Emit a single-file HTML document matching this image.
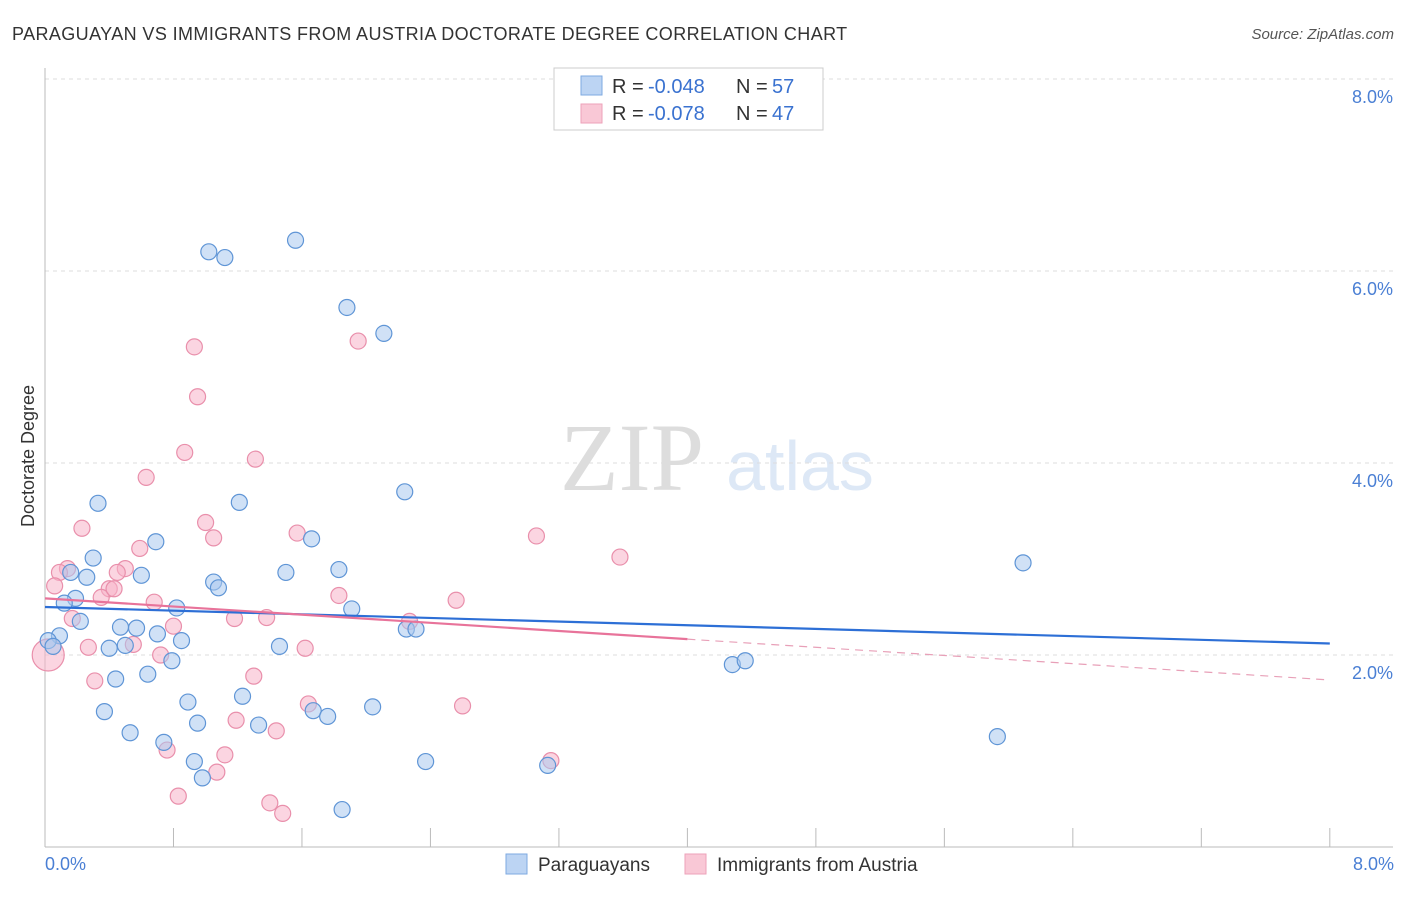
<!DOCTYPE html>
<html><head><meta charset="utf-8"><style>
body{margin:0;background:#fff;font-family:"Liberation Sans",sans-serif}
</style></head><body>
<svg id="c" width="1406" height="892" xmlns="http://www.w3.org/2000/svg">
<text x="12" y="40" font-size="18" fill="#333" letter-spacing="0.4">PARAGUAYAN VS IMMIGRANTS FROM AUSTRIA DOCTORATE DEGREE CORRELATION CHART</text>
<text x="1394" y="39" font-size="15" fill="#555" font-style="italic" text-anchor="end">Source: ZipAtlas.com</text>
<text x="632" y="490" font-size="96" fill="#ddd" font-family="Liberation Serif" text-anchor="middle">ZIP</text>
<text x="800" y="490" font-size="70" fill="#dde8f6" text-anchor="middle">atlas</text>
<g id="grid"></g><g id="axes"></g><g id="pts"></g><g id="lines"></g>
<text transform="translate(34,456) rotate(-90)" font-size="18" fill="#333" text-anchor="middle">Doctorate Degree</text>
<text x="45" y="870" font-size="18" fill="#4a7fd4">0.0%</text>
<text x="1394" y="870" font-size="18" fill="#4a7fd4" text-anchor="end">8.0%</text>
<g>
<rect x="554" y="68" width="269" height="62" fill="#fff" stroke="#ccc"/>
<rect x="581" y="76" width="21" height="19" fill="#bcd4f3" stroke="#7eaae0"/>
<rect x="581" y="104" width="21" height="19" fill="#f9c8d6" stroke="#eda2b9"/>
<text x="612" y="93" font-size="20" fill="#333">R =</text>
<text x="648" y="93" font-size="20" fill="#3a72d0">-0.048</text>
<text x="736" y="93" font-size="20" fill="#333">N =</text>
<text x="772" y="93" font-size="20" fill="#3a72d0">57</text>
<text x="612" y="120" font-size="20" fill="#333">R =</text>
<text x="648" y="120" font-size="20" fill="#3a72d0">-0.078</text>
<text x="736" y="120" font-size="20" fill="#333">N =</text>
<text x="772" y="120" font-size="20" fill="#3a72d0">47</text>
</g>
<g>
<rect x="506" y="854" width="21" height="20" fill="#bcd4f3" stroke="#7eaae0"/>
<text x="538" y="871" font-size="19" fill="#333">Paraguayans</text>
<rect x="685" y="854" width="21" height="20" fill="#f9c8d6" stroke="#eda2b9"/>
<text x="717" y="871" font-size="19" fill="#333">Immigrants from Austria</text>
</g>
</svg>
<script>
const yTicks=[2,4,6,8];
const yTickLabels=["2.0%","4.0%","6.0%","8.0%"];
const xTicks=[0,0.8,1.6,2.4,3.2,4.0,4.8,5.6,6.4,7.2,8.0];
const blueX=[1.02,1.12,1.56,1.88,2.11,0.33,1.21,2.24,0.69,1.66,0.30,0.16,0.26,0.60,1.50,1.83,1.05,1.08,0.19,0.12,0.82,1.91,0.22,0.47,0.57,0.70,0.85,0.09,0.02,0.05,0.50,0.40,1.46,2.25,2.31,0.79,0.64,0.44,4.28,4.36,6.09,0.89,1.23,0.37,0.95,1.33,1.67,1.76,2.04,0.53,0.74,0.93,0.98,2.37,3.13,5.93,1.85];
const blueY=[6.20,6.14,6.32,5.62,5.35,3.58,3.59,3.70,3.18,3.21,3.01,2.86,2.81,2.83,2.86,2.89,2.76,2.70,2.59,2.54,2.49,2.48,2.35,2.29,2.28,2.22,2.15,2.20,2.15,2.09,2.10,2.07,2.09,2.27,2.27,1.94,1.80,1.75,1.90,1.94,2.96,1.51,1.57,1.41,1.29,1.27,1.42,1.36,1.46,1.19,1.09,0.89,0.72,0.89,0.85,1.15,0.39];
const pinkX=[0.93,1.95,0.95,0.87,1.31,0.63,0.23,1.00,1.05,1.57,3.06,3.58,0.59,0.14,0.09,0.50,0.45,0.06,0.40,0.35,0.43,0.68,1.83,2.56,0.17,1.18,1.38,2.27,0.80,0.27,0.55,0.72,1.62,0.31,1.30,1.64,2.60,1.19,1.44,0.76,1.12,1.07,0.83,1.40,1.48,3.15,0.02];
const pinkY=[5.21,5.27,4.69,4.11,4.04,3.85,3.32,3.38,3.22,3.27,3.24,3.02,3.11,2.90,2.86,2.90,2.86,2.72,2.69,2.60,2.69,2.55,2.62,2.57,2.38,2.38,2.39,2.35,2.30,2.08,2.11,2.00,2.07,1.73,1.78,1.49,1.47,1.32,1.21,1.01,0.96,0.78,0.53,0.46,0.35,0.90,2.00];
const blueTrend=[2.50,2.12];
const pinkTrend=[2.59,1.74];
const X=v=>45+v*160.6, Y=v=>847-v*96;
const NS="http://www.w3.org/2000/svg";
function mk(p,t,a){const e=document.createElementNS(NS,t);for(const k in a)e.setAttribute(k,a[k]);document.getElementById(p).appendChild(e);return e;}
yTicks.forEach((t,i)=>{
 const l=mk('grid','line',{x1:45,x2:1393,y1:Y(t),y2:Y(t),stroke:'#ddd','stroke-dasharray':'4,4'});
 
 
 const tx=mk('grid','text',{x:1393,y:Y(t)+24,'font-size':18,fill:'#4a7fd4','text-anchor':'end'});
 tx.textContent=yTickLabels[i];
 
 
});
const ax=mk('axes','line',{x1:45,x2:45,y1:68,y2:847,stroke:'#bbb'});


const bx=mk('axes','line',{x1:45,x2:1393,y1:847,y2:847,stroke:'#bbb'});


xTicks.forEach(t=>{
 const l=mk('axes','line',{x1:X(t),x2:X(t),y1:828,y2:847,stroke:'#bbb'});
 
 
});
function dots(xs,ys,fill,stroke,name){
 xs.forEach((x,i)=>{
  const r=(name==='pink-point'&&i===xs.length-1)?16:8;
  const c=mk('pts','circle',{cx:X(x),cy:Y(ys[i]),r:r,fill:fill,'fill-opacity':0.55,stroke:stroke,'stroke-width':1.2});
  
  
 });
}
dots(pinkX,pinkY,'#f7b3c8','#e98fab','pink-point');
dots(blueX,blueY,'#a9c8ef','#5f95d6','blue-point');
const bl=mk('lines','line',{x1:X(0),y1:Y(blueTrend[0]),x2:X(8),y2:Y(blueTrend[1]),stroke:'#2d6fd6','stroke-width':2.2});


const py=x=>pinkTrend[0]+(pinkTrend[1]-pinkTrend[0])*x/8;
const pl=mk('lines','line',{x1:X(0),y1:Y(py(0)),x2:X(4),y2:Y(py(4)),stroke:'#e8739a','stroke-width':2.2});


const pd=mk('lines','line',{x1:X(4),y1:Y(py(4)),x2:X(8),y2:Y(py(8)),stroke:'#e8a0b8','stroke-width':1.2,'stroke-dasharray':'8,6'});


</script>
</body></html>
